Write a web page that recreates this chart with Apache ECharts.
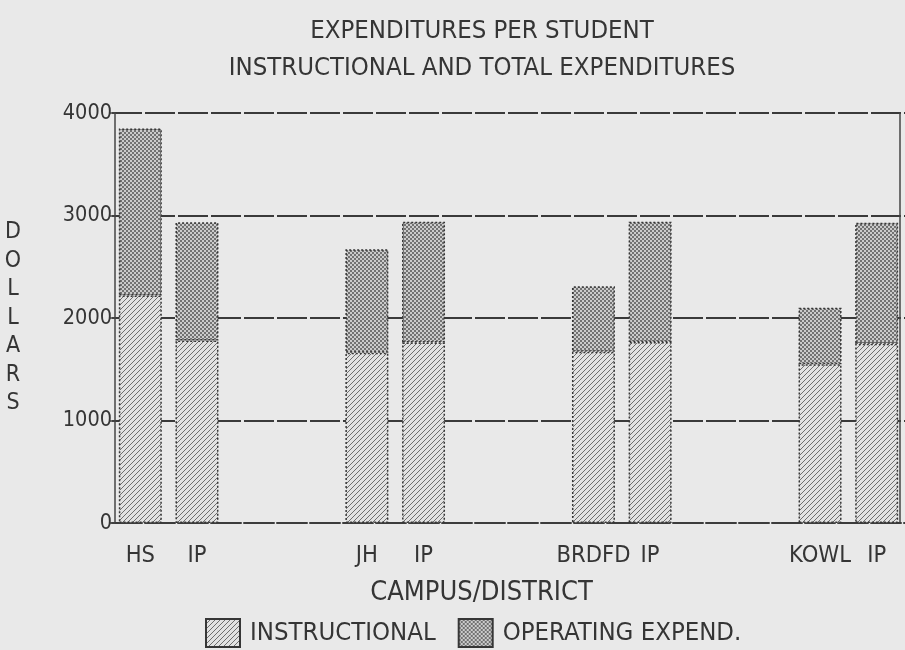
<!DOCTYPE html>
<html>
<head>
<meta charset="utf-8">
<script src="https://cdn.jsdelivr.net/npm/echarts@6/dist/echarts.min.js"></script>
<style>
html,body{margin:0;padding:0;background:#e9e9e9;}
#chart{width:905px;height:650px;}
</style>
</head>
<body>
<div id="chart"></div>
<script>
// ---- data ----
const categories = ['HS', 'IP', '', '', 'JH', 'IP', '', '', 'BRDFD', 'IP', '', '', 'KOWL', 'IP'];
const instructional = [2220, 1780, null, null, 1660, 1760, null, null, 1670, 1765, null, null, 1550, 1750];
const operating = [1630, 1155, null, null, 1010, 1180, null, null, 640, 1175, null, null, 550, 1180];
const yTicks = [0, 1000, 2000, 3000, 4000];
const titleLines = ['EXPENDITURES PER STUDENT', 'INSTRUCTIONAL AND TOTAL EXPENDITURES'];
const seriesNames = ['INSTRUCTIONAL', 'OPERATING EXPEND.'];

const FONT = "'Liberation Sans Narrow', 'DejaVu Sans Condensed', 'Roboto Condensed', 'Liberation Sans', sans-serif";
const INK = '#353535';

function hatchPattern() {
  const c = document.createElement('canvas');
  c.width = 5; c.height = 5;
  const g = c.getContext('2d');
  g.fillStyle = '#e2e2e2';
  g.fillRect(0, 0, 5, 5);
  g.strokeStyle = '#6e6e6e';
  g.lineWidth = 1;
  g.beginPath();
  g.moveTo(-1, 6); g.lineTo(6, -1);
  g.moveTo(-1, 1); g.lineTo(1, -1);
  g.moveTo(4, 6); g.lineTo(6, 4);
  g.stroke();
  return c;
}
function dotPattern() {
  const c = document.createElement('canvas');
  c.width = 4; c.height = 4;
  const g = c.getContext('2d');
  g.fillStyle = '#cbcbcb';
  g.fillRect(0, 0, 4, 4);
  g.fillStyle = '#727272';
  g.fillRect(0, 0, 2, 2);
  g.fillRect(2, 2, 2, 2);
  return c;
}

const chart = echarts.init(document.getElementById('chart'), null, {renderer: 'canvas'});
const barBorder = {borderColor: '#363636', borderWidth: 1.5, borderType: [2, 2]};

chart.setOption({
  backgroundColor: '#e9e9e9',
  animation: false,
  title: {
    text: titleLines.join('\n'),
    left: 482,
    textAlign: 'center',
    top: 13,
    padding: 0,
    textStyle: {fontFamily: FONT, fontSize: 25.5, fontWeight: 'normal', color: INK, lineHeight: 37}
  },
  legend: {
    data: seriesNames,
    left: 200,
    top: 613,
    itemWidth: 34,
    itemHeight: 28,
    itemGap: 22,
    icon: 'rect',
    textStyle: {fontFamily: FONT, fontSize: 25.5, color: INK, padding: [0, 0, 0, 5]}
  },
  grid: {left: 112, right: -3, top: 113, bottom: 127, containLabel: false},
  xAxis: {
    type: 'category',
    data: categories,
    name: 'CAMPUS/DISTRICT',
    nameLocation: 'middle',
    nameGap: 56,
    nameTextStyle: {fontFamily: FONT, fontSize: 27, color: INK, padding: [0, 54, 0, 0]},
    axisLine: {lineStyle: {color: '#3c3c3c', width: 2, type: [30, 3]}},
    axisTick: {alignWithLabel: true, length: 10, lineStyle: {color: '#444', width: 1.5}},
    axisLabel: {interval: 0, margin: 21, fontFamily: FONT, fontSize: 23.5, color: INK},
    splitLine: {show: false}
  },
  yAxis: [{
    type: 'value',
    min: yTicks[0],
    max: yTicks[yTicks.length - 1],
    interval: 1000,
    offset: -3,
    name: 'DOLLARS'.split('').join('\n'),
    nameLocation: 'middle',
    nameRotate: 0,
    nameGap: 102,
    nameTextStyle: {fontFamily: FONT, fontSize: 23, color: INK, lineHeight: 28.5, align: 'center', verticalAlign: 'middle', padding: [0, 0, 54, 0]},
    axisLine: {show: true, lineStyle: {color: '#444', width: 1.5}},
    axisTick: {show: true, length: 6, lineStyle: {color: '#444', width: 1.5}},
    axisLabel: {margin: 3, fontFamily: FONT, fontSize: 21.5, color: INK, formatter: function (v) { return String(v); }},
    splitLine: {show: true, lineStyle: {color: '#3a3a3a', width: 2, type: [30, 3]}}
  }, {
    type: 'value',
    position: 'right',
    min: yTicks[0],
    max: yTicks[yTicks.length - 1],
    interval: 1000,
    offset: -5,
    axisLine: {show: true, lineStyle: {color: '#444', width: 1.5}},
    axisTick: {show: false},
    axisLabel: {show: false},
    splitLine: {show: false}
  }],
  series: [{
    name: seriesNames[0],
    type: 'bar',
    stack: 'total',
    barWidth: 43,
    data: instructional,
    itemStyle: Object.assign({color: {image: hatchPattern(), repeat: 'repeat'}}, barBorder)
  }, {
    name: seriesNames[1],
    type: 'bar',
    stack: 'total',
    barWidth: 43,
    data: operating,
    itemStyle: Object.assign({color: {image: dotPattern(), repeat: 'repeat'}}, barBorder)
  }]
});
</script>
</body>
</html>
